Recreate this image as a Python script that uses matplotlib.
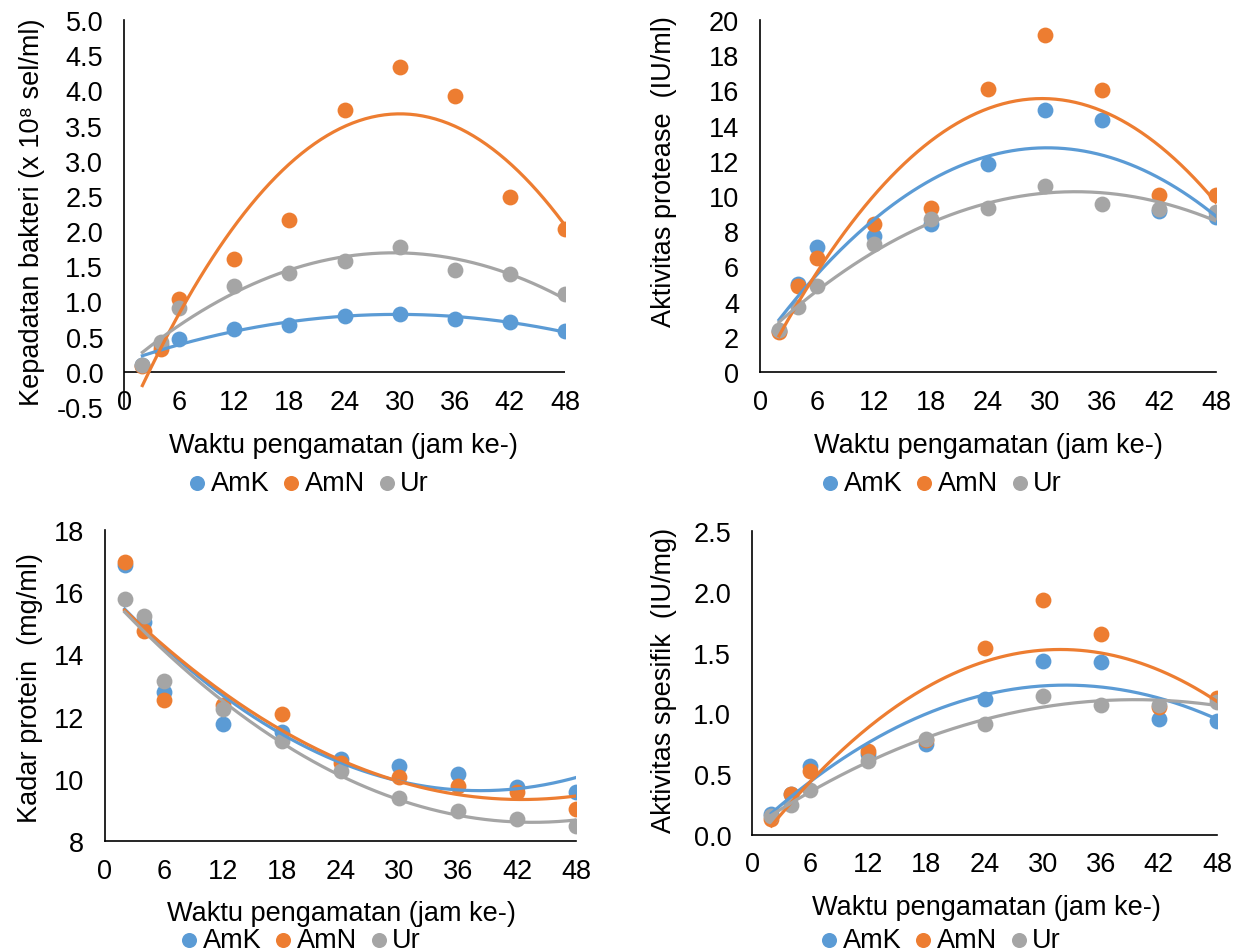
import matplotlib
matplotlib.use("Agg")
import matplotlib.pyplot as plt
import numpy as np
from matplotlib.ticker import FormatStrFormatter

plt.rcParams['font.family'] = ['Liberation Sans', 'DejaVu Sans']

W, H = 1240, 953
FS = 19.5

jam = [2, 4, 6, 12, 18, 24, 30, 36, 42, 48]
seri = ['AmK', 'AmN', 'Ur']
warna = ['#5B9BD5', '#ED7D31', '#A5A5A5']

# kepadatan bakteri (x 10^8 sel/ml)
bakteri_amk = [0.10, 0.38, 0.46, 0.61, 0.67, 0.79, 0.82, 0.75, 0.71, 0.58]
bakteri_amn = [0.08, 0.33, 1.03, 1.60, 2.16, 3.72, 4.33, 3.92, 2.48, 2.03]
bakteri_ur = [0.09, 0.43, 0.90, 1.22, 1.40, 1.58, 1.78, 1.45, 1.39, 1.10]

# aktivitas protease (IU/ml)
protease_amk = [2.34, 5.00, 7.10, 7.73, 8.42, 11.83, 14.86, 14.32, 9.16, 8.82]
protease_amn = [2.25, 4.88, 6.48, 8.40, 9.33, 16.06, 19.14, 16.00, 10.06, 10.06]
protease_ur = [2.38, 3.68, 4.88, 7.26, 8.72, 9.30, 10.59, 9.52, 9.26, 9.10]

# kadar protein (mg/ml)
protein_amk = [16.87, 15.05, 12.78, 11.77, 11.49, 10.64, 10.42, 10.14, 9.74, 9.56]
protein_amn = [16.98, 14.75, 12.52, 12.38, 12.08, 10.50, 10.07, 9.78, 9.58, 9.04]
protein_ur = [15.79, 15.23, 13.16, 12.23, 11.23, 10.25, 9.37, 8.96, 8.72, 8.48]

# aktivitas spesifik (IU/mg)
spesifik_amk = [0.17, 0.34, 0.57, 0.67, 0.75, 1.12, 1.43, 1.42, 0.95, 0.94]
spesifik_amn = [0.13, 0.34, 0.53, 0.69, 0.78, 1.54, 1.93, 1.65, 1.05, 1.13]
spesifik_ur = [0.16, 0.25, 0.37, 0.61, 0.79, 0.91, 1.14, 1.07, 1.07, 1.09]

panels = [
    dict(data=[bakteri_amk, bakteri_amn, bakteri_ur], box=(124, 565, 21, 408),
         ylim=(-0.5, 5.0), yticks=np.arange(-0.5, 5.01, 0.5), fmt='%.1f',
         ylabel='Kepadatan bakteri (x 10⁸ sel/ml)', ylab_x=32, ylab_y=212,
         tick_y=405, xlab_y=446, xlab_x=343, leg=(309, 484), zero_axis=True),
    dict(data=[protease_amk, protease_amn, protease_ur], box=(760, 1216, 21, 373),
         ylim=(0, 20), yticks=np.arange(0, 21, 2), fmt='%d',
         ylabel='Aktivitas protease  (IU/ml)', ylab_x=664, ylab_y=172,
         tick_y=405, xlab_y=446, xlab_x=988, leg=(942, 484), zero_axis=False),
    dict(data=[protein_amk, protein_amn, protein_ur], box=(105, 576, 531, 842),
         ylim=(8, 18), yticks=np.arange(8, 19, 2), fmt='%d',
         ylabel='Kadar protein  (mg/ml)', ylab_x=30, ylab_y=688,
         tick_y=874, xlab_y=914, xlab_x=341, leg=(301, 941), zero_axis=False),
    dict(data=[spesifik_amk, spesifik_amn, spesifik_ur], box=(752, 1217, 532, 836),
         ylim=(0, 2.5), yticks=np.arange(0, 2.51, 0.5), fmt='%.1f',
         ylabel='Aktivitas spesifik  (IU/mg)', ylab_x=664, ylab_y=680,
         tick_y=867, xlab_y=908, xlab_x=986, leg=(941, 941), zero_axis=False),
]

fig = plt.figure(figsize=(W / 100, H / 100), dpi=100)
x = np.array(jam)
xs = np.linspace(2, 48, 200)

for p in panels:
    l, r, t, b = p['box']
    ax = fig.add_axes([l / W, 1 - b / H, (r - l) / W, (b - t) / H])
    for ys, nama, c in zip(p['data'], seri, warna):
        ax.scatter(x, ys, s=130, color=c, label=nama, zorder=2, linewidths=0)
        # trendline polinomial orde 2 seperti Excel
        koef = np.polyfit(x, ys, 2)
        ax.plot(xs, np.polyval(koef, xs), color=c, lw=2.3, zorder=3)

    ax.set_xlim(0, 48)
    ax.set_ylim(*p['ylim'])
    ax.set_xticks(np.arange(0, 49, 6))
    ax.set_yticks(p['yticks'])
    ax.yaxis.set_major_formatter(FormatStrFormatter(p['fmt']))
    for s in ['top', 'right']:
        ax.spines[s].set_visible(False)
    ax.spines['left'].set_color('black')
    ax.spines['left'].set_linewidth(1.2)
    if p['zero_axis']:
        ax.spines['bottom'].set_visible(False)
        ax.axhline(0, color='black', lw=1.2, zorder=1)
    else:
        ax.spines['bottom'].set_color('black')
        ax.spines['bottom'].set_linewidth(1.2)

    xpad = (p['tick_y'] - b - 15) / 1.389
    ax.tick_params(axis='x', length=0, pad=xpad, labelsize=FS)
    ax.tick_params(axis='y', length=0, pad=15, labelsize=FS)

    ax.set_xlabel('Waktu pengamatan (jam ke-)', fontsize=FS)
    ax.xaxis.set_label_coords((p['xlab_x'] - l) / (r - l), (b - p['xlab_y']) / (b - t))
    ax.xaxis.label.set_va('center')
    ax.set_ylabel(p['ylabel'], fontsize=FS)
    ax.yaxis.set_label_coords((p['ylab_x'] - l) / (r - l), (b - p['ylab_y']) / (b - t))
    ax.yaxis.label.set_va('center')

    lx, ly = p['leg']
    ax.legend(loc='center', bbox_to_anchor=(lx / W, 1 - ly / H), bbox_transform=fig.transFigure,
              ncol=3, frameon=False, fontsize=FS, handlelength=0.6, handletextpad=0.2,
              columnspacing=0.5, borderpad=0, markerscale=0.95)

fig.savefig('out.png', dpi=100)
